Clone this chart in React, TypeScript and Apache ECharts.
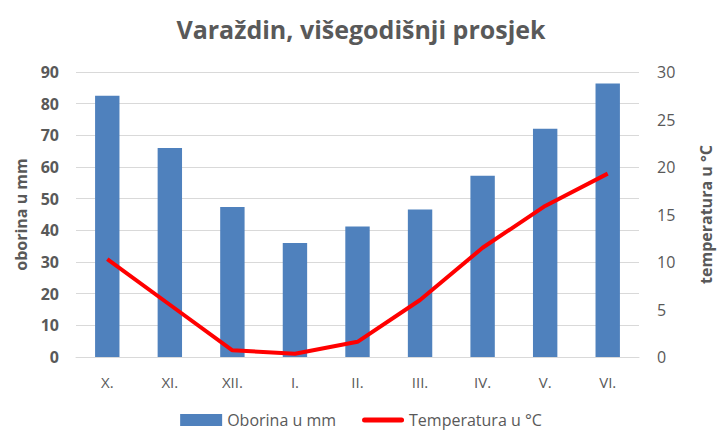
import React, { useEffect, useRef } from "react";
import * as echarts from "echarts";

const months = ["X.", "XI.", "XII.", "I.", "II.", "III.", "IV.", "V.", "VI."];
const precipitation = [82.5, 66, 47.4, 36, 41.2, 46.6, 57.2, 72.1, 86.4];
const temperature = [10.3, 5.5, 0.7, 0.35, 1.6, 6.0, 11.5, 15.9, 19.3];

const FONT = "'Open Sans', 'Liberation Sans', sans-serif";
const GRAY = "#595959";
const LINE_ICON =
  "path://M0,0L0.01,0L0,0.01Z M42,12L41.99,12L42,11.99Z M2.5,3.5L39.5,3.5A2.5,2.5 0 0 1 39.5,8.5L2.5,8.5A2.5,2.5 0 0 1 2.5,3.5Z";

export default function App() {
  const ref = useRef<HTMLDivElement>(null);
  useEffect(() => {
    if (!ref.current) return;
    const chart = echarts.init(ref.current, null, { renderer: "svg" });
    chart.setOption({
      animation: false,
      backgroundColor: "#ffffff",
      textStyle: { fontFamily: FONT },
      title: {
        text: "Varaždin, višegodišnji prosjek",
        left: "center",
        top: 11,
        textStyle: { fontFamily: FONT, fontSize: 25, fontWeight: "bold", color: GRAY },
      },
      legend: {
        bottom: 2,
        left: "center",
        itemGap: 26,
        itemWidth: 42,
        itemHeight: 12,
        textStyle: { fontFamily: FONT, fontSize: 16, color: GRAY },
        data: [
          { name: "Oborina u mm", icon: "rect" },
          { name: "Temperatura u °C", icon: LINE_ICON },
        ],
      },
      grid: { left: 76, right: 67, top: 72, bottom: 78, containLabel: false },
      xAxis: {
        type: "category",
        data: months,
        axisLine: { lineStyle: { color: "#d9d9d9" } },
        axisTick: { show: false },
        axisLabel: { fontFamily: FONT, fontSize: 15, color: GRAY, margin: 17 },
      },
      yAxis: [
        {
          type: "value",
          min: 0,
          max: 90,
          interval: 10,
          name: "oborina u mm",
          nameLocation: "middle",
          nameGap: 47,
          nameTextStyle: { fontFamily: FONT, fontSize: 16, fontWeight: "bold", color: GRAY },
          axisLabel: { fontFamily: FONT, fontSize: 16, fontWeight: "bold", color: GRAY, margin: 17 },
          splitLine: { lineStyle: { color: "#d9d9d9", width: 1 } },
          axisLine: { show: false },
          axisTick: { show: false },
        },
        {
          type: "value",
          min: 0,
          max: 30,
          interval: 5,
          position: "right",
          name: "temperatura u °C",
          nameLocation: "middle",
          nameGap: 59,
          nameRotate: 90,
          nameTextStyle: { fontFamily: FONT, fontSize: 16, fontWeight: "bold", color: GRAY },
          axisLabel: { fontFamily: FONT, fontSize: 16, color: GRAY, margin: 18 },
          splitLine: { show: false },
          axisLine: { show: false },
          axisTick: { show: false },
        },
      ],
      series: [
        {
          name: "Oborina u mm",
          type: "bar",
          data: precipitation,
          barWidth: "39%",
          itemStyle: { color: "#4f81bd" },
          yAxisIndex: 0,
        },
        {
          name: "Temperatura u °C",
          type: "line",
          data: temperature,
          yAxisIndex: 1,
          symbol: "none",
          lineStyle: { color: "#ff0000", width: 4 },
          itemStyle: { color: "#ff0000" },
        },
      ],
    });
    return () => chart.dispose();
  }, []);
  return <div ref={ref} style={{ width: 722, height: 435, position: "absolute", left: 0, top: 0 }} />;
}
